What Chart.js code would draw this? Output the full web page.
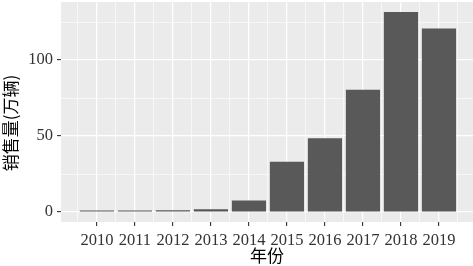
<!DOCTYPE html>
<html>
<head>
<meta charset="utf-8">
<script src="https://cdn.jsdelivr.net/npm/chart.js@4/dist/chart.umd.min.js"></script>
<style>
  html, body { margin: 0; padding: 0; background: #ffffff; }
  #wrap { width: 473px; height: 266px; }
</style>
</head>
<body>
<div id="wrap"><canvas id="grafico"></canvas></div>
<script>
// datos
var anios = [2010, 2011, 2012, 2013, 2014, 2015, 2016, 2017, 2018, 2019];
var ventas = [1.0, 1.0, 1.2, 1.8, 7.5, 33.1, 48.5, 80.5, 131.6, 120.7];
var yMarcas = [0, 50, 100];
var yMenores = [25, 75, 125];
var tituloX = '年份';
var tituloY = '销售量(万辆)';

var xTicks = [];
for (let i = 0; i <= anios.length; i++) {
    xTicks.push(anios[0] - 0.5 + i);
    if (i < anios.length) xTicks.push(anios[i]);
}
var yTicks = yMarcas.concat(yMenores).sort(function (a, b) { return a - b; });

function esMayor(lista, c) {
    return !!(c && c.tick && lista.indexOf(c.tick.value) >= 0);
}

var fondo = {
    id: 'fondo',
    beforeDraw: function (chart) {
        var a = chart.chartArea;
        var ctx = chart.ctx;
        ctx.save();
        ctx.fillStyle = '#EBEBEB';
        ctx.fillRect(a.left, a.top, a.right - a.left, a.bottom - a.top);
        ctx.restore();
    },
    afterDraw: function (chart) {
        var ctx = chart.ctx;
        ctx.save();
        ctx.translate(11, 123);
        ctx.rotate(-Math.PI / 2);
        ctx.font = '17px "Noto Sans CJK SC"';
        ctx.fillStyle = '#000000';
        ctx.textAlign = 'center';
        ctx.textBaseline = 'middle';
        ctx.fillText(tituloY, 0, 0);
        ctx.restore();
    }
};

var maxV = Math.max.apply(null, ventas);
var ctx = document.getElementById('grafico').getContext('2d');
var grafico = new Chart(ctx, {
    type: 'bar',
    data: {
        datasets: [{
            data: anios.map(function (a, i) { return { x: a, y: ventas[i] }; }),
            backgroundColor: '#595959',
            borderWidth: 0,
            // el paso minimo es medio anio por las lineas menores
            categoryPercentage: 0.9,
            barPercentage: 2.0
        }]
    },
    options: {
        responsive: true,
        maintainAspectRatio: false,
        animation: false,
        devicePixelRatio: 1,
        layout: { padding: { top: 2, left: 0, right: 0, bottom: 0 } },
        plugins: { legend: { display: false }, tooltip: { enabled: false } },
        scales: {
            x: {
                type: 'linear',
                offset: false,
                min: anios[0] - 0.945,
                max: anios[anios.length - 1] + 0.895,
                afterBuildTicks: function (s) { s.ticks = xTicks.map(function (v) { return { value: v }; }); },
                afterFit: function (s) { s.height = 44; s.paddingLeft = 0; s.paddingRight = 0; },
                border: { display: false },
                grid: {
                    offset: false,
                    color: '#FFFFFF',
                    lineWidth: function (c) { return esMayor(anios, c) ? 1.2 : 0.6; },
                    tickColor: function (c) { return esMayor(anios, c) ? '#333333' : 'rgba(0,0,0,0)'; },
                    tickLength: 4,
                    tickWidth: 1.1
                },
                ticks: {
                    autoSkip: false,
                    maxRotation: 0,
                    padding: 5,
                    color: '#333333',
                    font: { family: 'Liberation Serif', size: 16.5 },
                    callback: function (v) { return anios.indexOf(v) >= 0 ? String(v) : ''; }
                },
                title: {
                    display: true,
                    text: tituloX,
                    color: '#000000',
                    padding: { top: 0, bottom: 0 },
                    font: { family: 'Noto Sans CJK SC', size: 17, lineHeight: 1.2 }
                }
            },
            y: {
                min: -0.05 * maxV,
                max: 1.05 * maxV,
                afterBuildTicks: function (s) { s.ticks = yTicks.map(function (v) { return { value: v }; }); },
                afterFit: function (s) { s.width = 61; s.paddingTop = 0; s.paddingBottom = 0; },
                border: { display: false },
                grid: {
                    color: '#FFFFFF',
                    lineWidth: function (c) { return esMayor(yMarcas, c) ? 1.2 : 0.6; },
                    tickColor: function (c) { return esMayor(yMarcas, c) ? '#333333' : 'rgba(0,0,0,0)'; },
                    tickLength: 4,
                    tickWidth: 1.1
                },
                ticks: {
                    autoSkip: false,
                    padding: 4,
                    color: '#333333',
                    font: { family: 'Liberation Serif', size: 16.5 },
                    callback: function (v) { return yMarcas.indexOf(v) >= 0 ? String(v) : ''; }
                }
            }
        }
    },
    plugins: [fondo]
});
</script>
</body>
</html>
